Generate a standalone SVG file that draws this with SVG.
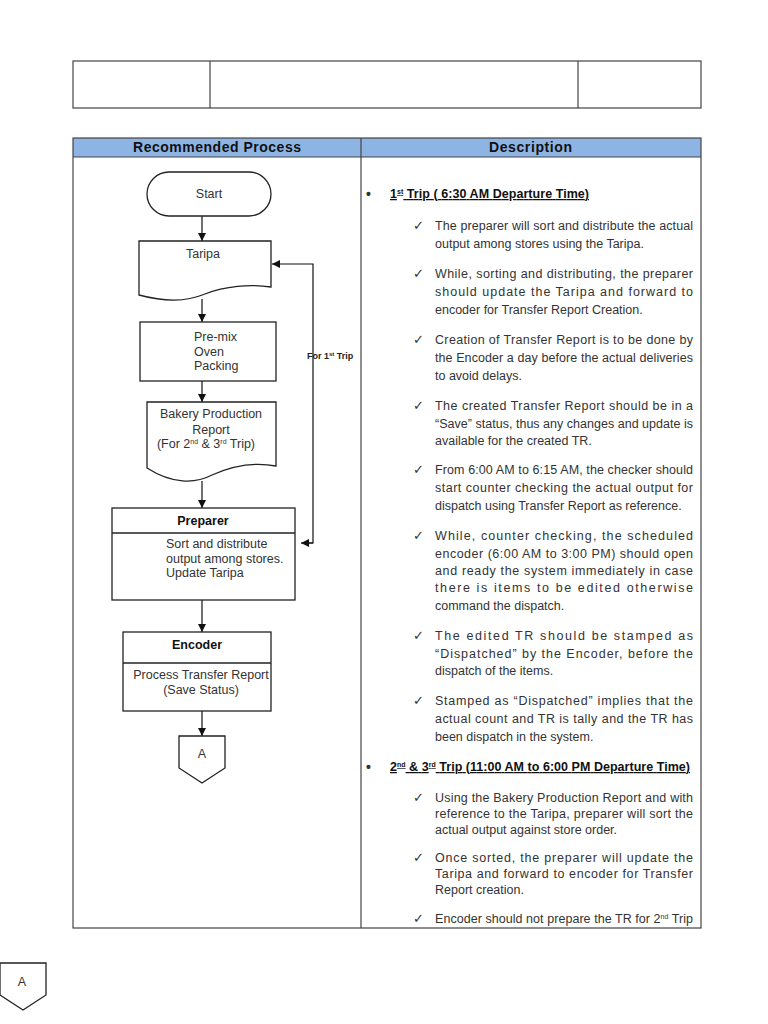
<svg xmlns="http://www.w3.org/2000/svg" width="768" height="1024" viewBox="0 0 768 1024">
<defs>
<marker id="ah" markerWidth="10" markerHeight="10" refX="9" refY="5" orient="auto" markerUnits="userSpaceOnUse">
<path d="M1,1 L9,5 L1,9 Z" fill="#111"/>
</marker>
<style>
.tb{fill:none;stroke:#444;stroke-width:1.2}
.sh{fill:#fff;stroke:#222;stroke-width:1.3}
.ln{fill:none;stroke:#111;stroke-width:1.2}
.ft{font-family:"Liberation Sans",Arial,sans-serif;font-size:12.5px;fill:#333}
.fb{font-family:"Liberation Sans",Arial,sans-serif;font-size:12.5px;font-weight:bold;fill:#111}
.hd{font-family:"Liberation Sans",Arial,sans-serif;font-size:14px;font-weight:bold;fill:#111}
.dt{font-family:"Liberation Sans",Arial,sans-serif;font-size:12.5px;fill:#333}
.ck{font-family:"DejaVu Sans",sans-serif;font-size:13px;fill:#333}
.bl{font-family:"Liberation Sans",Arial,sans-serif;font-size:12.5px;font-weight:bold;fill:#111;text-decoration:underline}
.sup{font-size:7px}
</style>
</defs>
<rect width="768" height="1024" fill="#fff"/>
<g id="top-table">
<rect x="73" y="61" width="628" height="47" class="tb"/>
<line x1="210" y1="61" x2="210" y2="108" class="tb"/>
<line x1="578" y1="61" x2="578" y2="108" class="tb"/>
</g>
<g id="main-table">
<rect x="73" y="138" width="628" height="19" fill="#8eb4e3"/>
<rect x="73" y="138" width="628" height="790" class="tb"/>
<line x1="73" y1="157" x2="701" y2="157" class="tb"/>
<line x1="361" y1="138" x2="361" y2="928" class="tb"/>
<text x="133" y="152" class="hd" textLength="168" lengthAdjust="spacing">Recommended Process</text>
<text x="489" y="152" class="hd" textLength="83" lengthAdjust="spacing">Description</text>
</g>
<g id="connectors">
<line x1="202" y1="216" x2="202" y2="241" class="ln" marker-end="url(#ah)"/>
<line x1="202" y1="299" x2="202" y2="322" class="ln" marker-end="url(#ah)"/>
<line x1="202" y1="381" x2="202" y2="402" class="ln" marker-end="url(#ah)"/>
<line x1="202" y1="481" x2="202" y2="508" class="ln" marker-end="url(#ah)"/>
<line x1="202" y1="600" x2="202" y2="632" class="ln" marker-end="url(#ah)"/>
<line x1="202" y1="711" x2="202" y2="736" class="ln" marker-end="url(#ah)"/>
<polyline points="303,543 313,543 313,264 272,264" class="ln" marker-end="url(#ah)"/>
<line x1="313" y1="543" x2="301" y2="543" class="ln" marker-end="url(#ah)"/>
<text x="307" y="359" style="font-family:'Liberation Sans',Arial,sans-serif;font-size:9px;font-weight:bold;fill:#222">For 1<tspan style="font-size:6px" dy="-3">st</tspan><tspan dy="3"> Trip</tspan></text>
</g>
<g id="start">
<rect x="147" y="172" width="124" height="44" rx="22" class="sh"/>
<text x="209" y="198" class="ft" text-anchor="middle">Start</text>
</g>
<g id="taripa">
<path d="M139,241 H271 V287 C250,284 225,286 205,294 C185,302 165,302 139,295 Z" class="sh"/>
<text x="203" y="258" class="ft" text-anchor="middle">Taripa</text>
</g>
<g id="premix">
<rect x="140" y="322" width="136" height="59" class="sh"/>
<text class="ft"><tspan x="194" y="341">Pre-mix</tspan><tspan x="194" y="356">Oven</tspan><tspan x="194" y="370">Packing</tspan></text>
</g>
<g id="bakery-report">
<path d="M147,402 H276 V466 C255,462 232,466 212,475 C195,484 172,484 147,468 Z" class="sh"/>
<text class="ft" text-anchor="middle"><tspan x="211" y="418">Bakery Production</tspan><tspan x="211" y="434">Report</tspan></text>
<text x="206" y="448" class="ft" text-anchor="middle">(For 2<tspan class="sup" dy="-4">nd</tspan><tspan dy="4"> &amp; 3</tspan><tspan class="sup" dy="-4">rd</tspan><tspan dy="4"> Trip)</tspan></text>
</g>
<g id="preparer">
<rect x="112" y="508" width="183" height="92" class="sh"/>
<line x1="112" y1="533" x2="295" y2="533" class="sh"/>
<text x="203" y="525" class="fb" text-anchor="middle">Preparer</text>
<text class="ft"><tspan x="166" y="548">Sort and distribute</tspan><tspan x="166" y="563">output among stores.</tspan><tspan x="166" y="577">Update Taripa</tspan></text>
</g>
<g id="encoder">
<rect x="123" y="632" width="148" height="79" class="sh"/>
<line x1="123" y1="663" x2="271" y2="663" class="sh"/>
<text x="197" y="649" class="fb" text-anchor="middle">Encoder</text>
<text class="ft" text-anchor="middle"><tspan x="201" y="679">Process Transfer Report</tspan><tspan x="201" y="694">(Save Status)</tspan></text>
</g>
<g id="connector-a1">
<path d="M179,736 H225 V768 L202,783 L179,768 Z" class="sh"/>
<text x="202" y="758" class="ft" text-anchor="middle">A</text>
</g>
<g id="connector-a2">
<path d="M0,963 H46 V995 L23,1010 L0,995 Z" class="sh"/>
<text x="22" y="986" class="ft" text-anchor="middle">A</text>
</g>
<g id="description">
<text x="366" y="199" class="dt" style="font-weight:bold;font-size:14px">•</text>
<text x="390" y="198" class="bl" textLength="199" lengthAdjust="spacing">1<tspan class="sup" dy="-4">st</tspan><tspan dy="4"> Trip ( 6:30 AM Departure Time)</tspan></text>

<text x="413" y="230" class="ck">✓</text>
<text x="435" y="230" class="dt" textLength="258" lengthAdjust="spacing">The preparer will sort and distribute the actual</text>
<text x="435" y="248" class="dt">output among stores using the Taripa.</text>

<text x="413" y="278" class="ck">✓</text>
<text x="435" y="278" class="dt" textLength="258" lengthAdjust="spacing">While, sorting and distributing, the preparer</text>
<text x="435" y="296" class="dt" textLength="258" lengthAdjust="spacing">should update the Taripa and forward to</text>
<text x="435" y="314" class="dt">encoder for Transfer Report Creation.</text>

<text x="413" y="344" class="ck">✓</text>
<text x="435" y="344" class="dt" textLength="258" lengthAdjust="spacing">Creation of Transfer Report is to be done by</text>
<text x="435" y="362" class="dt" textLength="258" lengthAdjust="spacing">the Encoder a day before the actual deliveries</text>
<text x="435" y="380" class="dt">to avoid delays.</text>

<text x="413" y="410" class="ck">✓</text>
<text x="435" y="410" class="dt" textLength="258" lengthAdjust="spacing">The created Transfer Report should be in a</text>
<text x="435" y="428" class="dt" textLength="258" lengthAdjust="spacing">“Save” status, thus any changes and update is</text>
<text x="435" y="445" class="dt">available for the created TR.</text>

<text x="413" y="474" class="ck">✓</text>
<text x="435" y="474" class="dt" textLength="258" lengthAdjust="spacing">From 6:00 AM to 6:15 AM, the checker should</text>
<text x="435" y="492" class="dt" textLength="258" lengthAdjust="spacing">start counter checking the actual output for</text>
<text x="435" y="510" class="dt">dispatch using Transfer Report as reference.</text>

<text x="413" y="540" class="ck">✓</text>
<text x="435" y="540" class="dt" textLength="258" lengthAdjust="spacing">While, counter checking, the scheduled</text>
<text x="435" y="558" class="dt" textLength="258" lengthAdjust="spacing">encoder (6:00 AM to 3:00 PM) should open</text>
<text x="435" y="575" class="dt" textLength="258" lengthAdjust="spacing">and ready the system immediately in case</text>
<text x="435" y="592" class="dt" textLength="258" lengthAdjust="spacing">there is items to be edited otherwise</text>
<text x="435" y="610" class="dt">command the dispatch.</text>

<text x="413" y="640" class="ck">✓</text>
<text x="435" y="640" class="dt" textLength="258" lengthAdjust="spacing">The edited TR should be stamped as</text>
<text x="435" y="658" class="dt" textLength="258" lengthAdjust="spacing">“Dispatched” by the Encoder, before the</text>
<text x="435" y="675" class="dt">dispatch of the items.</text>

<text x="413" y="705" class="ck">✓</text>
<text x="435" y="705" class="dt" textLength="258" lengthAdjust="spacing">Stamped as “Dispatched” implies that the</text>
<text x="435" y="723" class="dt" textLength="258" lengthAdjust="spacing">actual count and TR is tally and the TR has</text>
<text x="435" y="741" class="dt">been dispatch in the system.</text>

<text x="366" y="772" class="dt" style="font-weight:bold;font-size:14px">•</text>
<text x="390" y="771" class="bl" textLength="300" lengthAdjust="spacing">2<tspan class="sup" dy="-4">nd</tspan><tspan dy="4"> &amp; 3</tspan><tspan class="sup" dy="-4">rd</tspan><tspan dy="4"> Trip (11:00 AM to 6:00 PM Departure Time)</tspan></text>

<text x="413" y="802" class="ck">✓</text>
<text x="435" y="802" class="dt" textLength="258" lengthAdjust="spacing">Using the Bakery Production Report and with</text>
<text x="435" y="818" class="dt" textLength="258" lengthAdjust="spacing">reference to the Taripa, preparer will sort the</text>
<text x="435" y="834" class="dt">actual output against store order.</text>

<text x="413" y="862" class="ck">✓</text>
<text x="435" y="862" class="dt" textLength="258" lengthAdjust="spacing">Once sorted, the preparer will update the</text>
<text x="435" y="878" class="dt" textLength="258" lengthAdjust="spacing">Taripa and forward to encoder for Transfer</text>
<text x="435" y="894" class="dt">Report creation.</text>

<text x="413" y="923" class="ck">✓</text>
<text x="435" y="923" class="dt" textLength="258" lengthAdjust="spacing">Encoder should not prepare the TR for 2<tspan class="sup" dy="-4">nd</tspan><tspan dy="4"> Trip</tspan></text>
</g>
</svg>
